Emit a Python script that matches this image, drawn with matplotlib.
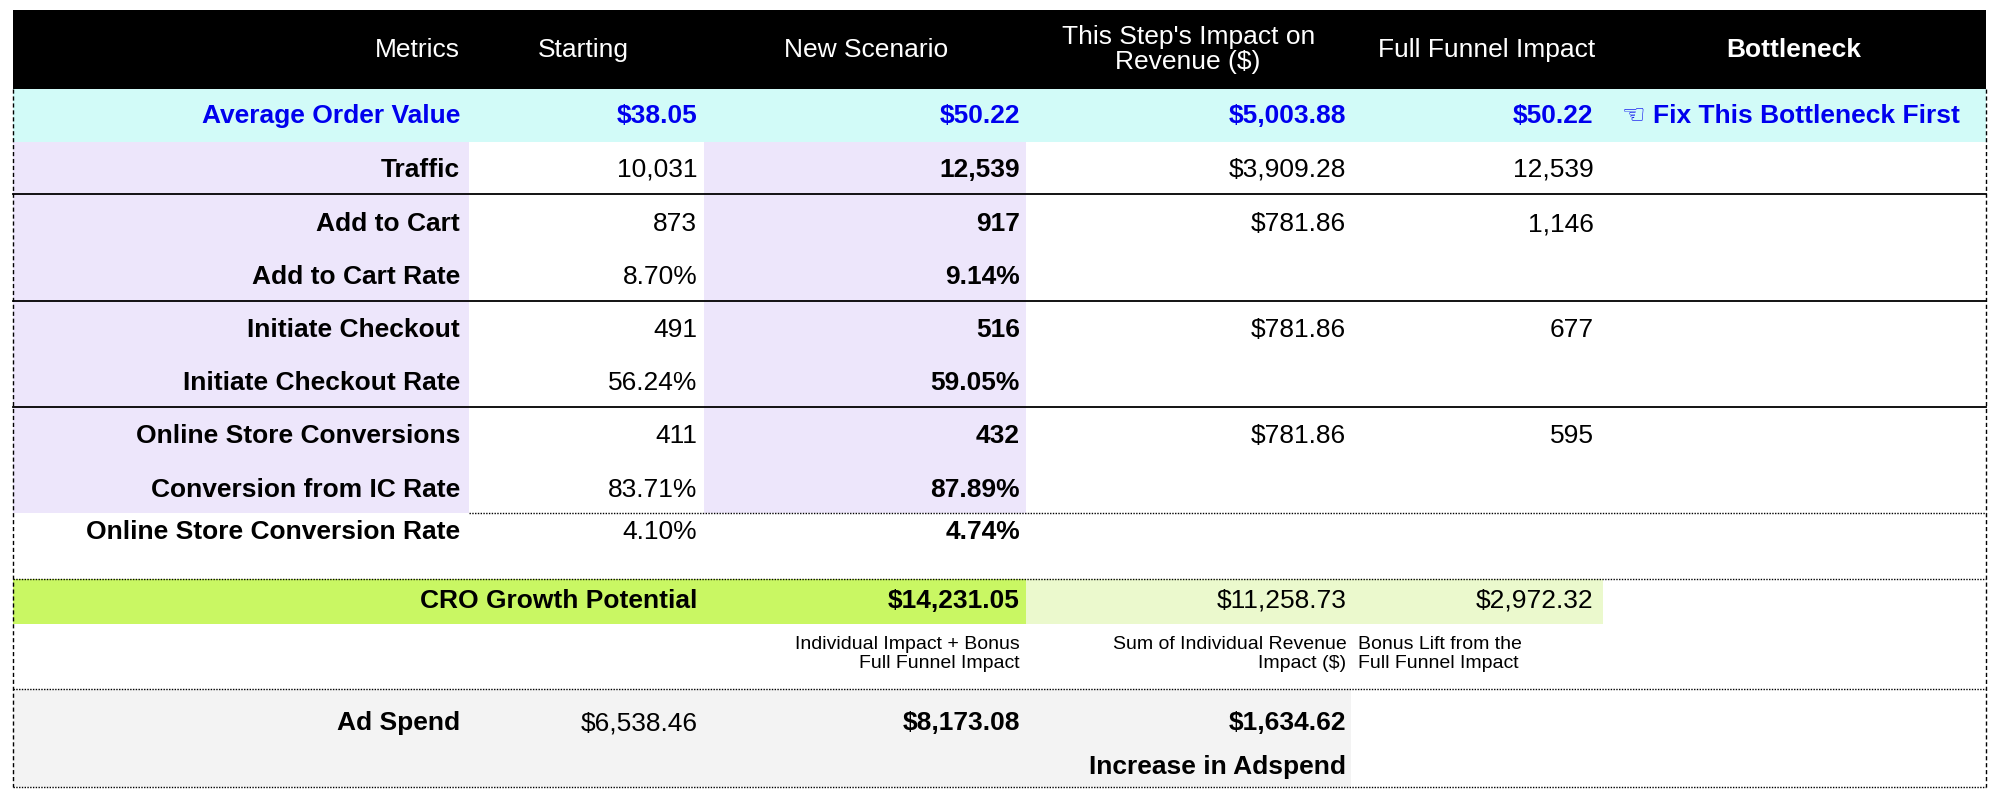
import matplotlib
matplotlib.use("Agg")
import matplotlib.pyplot as plt
from matplotlib.patches import Rectangle

plt.rcParams['font.family'] = ['Liberation Sans', 'DejaVu Sans']

headers = ["Metrics", "Starting", "New Scenario", "This Step's Impact on\nRevenue ($)", "Full Funnel Impact", "Bottleneck"]
metrics = ["Average Order Value", "Traffic", "Add to Cart", "Add to Cart Rate", "Initiate Checkout",
           "Initiate Checkout Rate", "Online Store Conversions", "Conversion from IC Rate",
           "Online Store Conversion Rate"]
starting = ["$38.05", "10,031", "873", "8.70%", "491", "56.24%", "411", "83.71%", "4.10%"]
new_scenario = ["$50.22", "12,539", "917", "9.14%", "516", "59.05%", "432", "87.89%", "4.74%"]
step_impact = ["$5,003.88", "$3,909.28", "$781.86", "", "$781.86", "", "$781.86", "", ""]
full_funnel = ["$50.22", "12,539", "1,146", "", "677", "", "595", "", ""]
bottleneck = "Fix This Bottleneck First"
cro_label = "CRO Growth Potential"
cro_values = ["$14,231.05", "$11,258.73", "$2,972.32"]
cro_notes = ["Individual Impact + Bonus\nFull Funnel Impact", "Sum of Individual Revenue\nImpact ($)",
             "Bonus Lift from the\nFull Funnel Impact"]
adspend_label = "Ad Spend"
adspend = ["$6,538.46", "$8,173.08", "$1,634.62"]
adspend_note = "Increase in Adspend"

fig = plt.figure(figsize=(19.99, 8.01), dpi=100)
ax = fig.add_axes([0, 0, 1, 1])
ax.set_xlim(0, 1568); ax.set_ylim(628, 0); ax.axis('off')

cols = [10, 368, 552, 805, 1060, 1257, 1558]
rights = [361, 547, 800, 1056, 1250]
FS = 19
BLUE = '#0000ee'
LAV = '#ede6fb'

def rect(x0, y0, x1, y1, c):
    ax.add_patch(Rectangle((x0, y0), x1 - x0, y1 - y0, color=c, lw=0, zorder=0))

# header
rect(10, 8, 1558, 70, 'black')
ax.text(rights[0], 39, headers[0], color='white', ha='right', va='center', fontsize=FS)
ax.text(422, 39, headers[1], color='white', ha='left', va='center', fontsize=FS)
ax.text(679, 39, headers[2], color='white', ha='center', va='center', fontsize=FS)
ax.text(932, 39, headers[3], color='white', ha='center', va='center', fontsize=FS, linespacing=1.05)
ax.text(1166, 39, headers[4], color='white', ha='center', va='center', fontsize=FS)
ax.text(1407, 39, headers[5], color='white', ha='center', va='center', fontsize=FS, weight='bold')

# row geometry
row_y = [91, 133, 176, 217, 259, 300, 342, 384, 417]
row_bands = [(70, 111), (111, 152), (152, 196), (196, 236), (236, 279), (279, 319), (319, 362), (362, 402)]

rect(10, 70, 1558, 111, '#d2fbf8')
for (a, b) in row_bands[1:]:
    rect(10, a, cols[1], b, LAV)
    rect(cols[2], a, cols[3], b, LAV)

for i, m in enumerate(metrics):
    y = row_y[i]
    if i == 0:
        kw = dict(color=BLUE, weight='bold')
    else:
        kw = dict(color='black')
    ax.text(rights[0], y, m, ha='right', va='center', fontsize=FS, weight='bold', color=kw['color'])
    ax.text(rights[1], y, starting[i], ha='right', va='center', fontsize=FS, **kw)
    ax.text(rights[2], y, new_scenario[i], ha='right', va='center', fontsize=FS,
            color=kw['color'], weight='bold')
    ax.text(rights[3], y, step_impact[i], ha='right', va='center', fontsize=FS, **kw)
    ax.text(rights[4], y, full_funnel[i], ha='right', va='center', fontsize=FS, **kw)
ax.text(1272, row_y[0], "\u261c " + bottleneck, ha='left', va='center', fontsize=FS,
        color=BLUE, weight='bold', family=['Liberation Sans', 'DejaVu Sans'])

# CRO row
rect(10, 454, cols[3], 489, '#c9f763')
rect(cols[3], 454, cols[5], 489, '#ebf9cd')
ax.text(rights[1], 471, cro_label, ha='right', va='center', fontsize=FS, weight='bold')
ax.text(rights[2], 471, cro_values[0], ha='right', va='center', fontsize=FS, weight='bold')
ax.text(rights[3], 471, cro_values[1], ha='right', va='center', fontsize=FS)
ax.text(rights[4], 471, cro_values[2], ha='right', va='center', fontsize=FS)
ax.text(rights[2], 513, cro_notes[0], ha='right', va='center', fontsize=14, linespacing=1.15)
ax.text(rights[3], 513, cro_notes[1], ha='right', va='center', fontsize=14, linespacing=1.15)
ax.text(1065, 513, cro_notes[2], ha='left', va='center', fontsize=14, linespacing=1.15)

# Ad spend
rect(10, 540, cols[4], 617, '#f3f3f3')
ax.text(rights[0], 567, adspend_label, ha='right', va='center', fontsize=FS, weight='bold')
ax.text(rights[1], 567, adspend[0], ha='right', va='center', fontsize=FS)
ax.text(rights[2], 567, adspend[1], ha='right', va='center', fontsize=FS, weight='bold')
ax.text(rights[3], 567, adspend[2], ha='right', va='center', fontsize=FS, weight='bold')
ax.text(rights[3], 601, adspend_note, ha='right', va='center', fontsize=FS, weight='bold')

# lines
for y in [152, 236, 319]:
    ax.plot([10, 1558], [y, y], color='black', lw=1.3, zorder=3)
ax.plot([cols[1], 1558], [402, 402], color='black', lw=1, ls=(0, (1, 1)), zorder=3)
for y in [454, 540, 617]:
    ax.plot([10, 1558], [y, y], color='black', lw=1, ls=(0, (1, 1)), zorder=3)
for x in [10, 1558]:
    ax.plot([x, x], [70, 617], color='black', lw=1, ls=(0, (3, 2)), zorder=3)

fig.savefig('out.png', dpi=100)
